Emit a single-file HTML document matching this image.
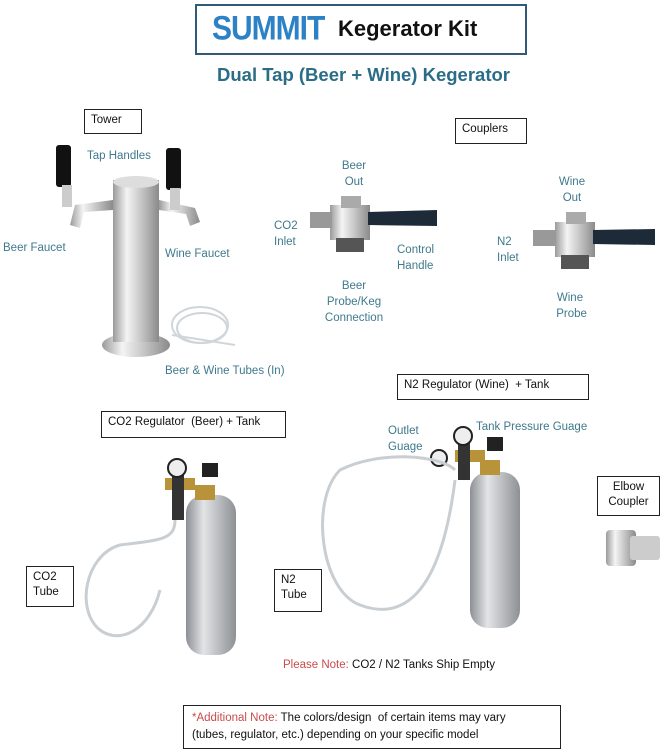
<!DOCTYPE html>
<html><head><meta charset="utf-8"><style>
body{margin:0;width:666px;height:751px;background:#fff;position:relative;overflow:hidden;font-family:"Liberation Sans",sans-serif}
.a{position:absolute}
.t{position:absolute;color:#3e7a8c;font-size:11.5px;line-height:16px;white-space:nowrap}
.c{text-align:center}
.b{position:absolute;border:1.3px solid #222;font-size:11.5px;line-height:15px;color:#111;box-sizing:border-box;padding:3px 6px}
</style></head><body>
<div class="a" style="left:195px;top:4px;width:332px;height:51px;border:2px solid #2f5a78;box-sizing:border-box"></div>
<div class="a" style="left:212px;top:12px;font-size:30px;font-weight:bold;color:#2d82c6;letter-spacing:-1px;transform:scaleY(1.15);font-family:'Liberation Sans Narrow','Liberation Sans',sans-serif">SUMMIT</div>
<div class="a" style="left:338px;top:16px;font-size:22px;font-weight:bold;color:#111">Kegerator Kit</div>
<div class="a" style="left:217px;top:64px;font-size:18.5px;font-weight:bold;color:#2b6d87">Dual Tap (Beer + Wine) Kegerator</div>

<div class="b" style="left:84px;top:109px;width:58px;height:25px">Tower</div>
<div class="b" style="left:455px;top:118px;width:72px;height:26px">Couplers</div>
<div class="b" style="left:101px;top:411px;width:185px;height:27px">CO2 Regulator &nbsp;(Beer) + Tank</div>
<div class="b" style="left:397px;top:374px;width:192px;height:26px">N2 Regulator (Wine) &nbsp;+ Tank</div>
<div class="b" style="left:26px;top:566px;width:48px;height:41px">CO2<br>Tube</div>
<div class="b" style="left:274px;top:569px;width:48px;height:43px">N2<br>Tube</div>
<div class="b" style="left:597px;top:476px;width:63px;height:40px;text-align:center;padding:3px 2px">Elbow<br>Coupler</div>
<div class="b" style="left:183px;top:705px;width:378px;height:44px;font-size:11.5px;padding:4px 8px;line-height:17px"><span style="color:#c94c4c">*Additional Note:</span> The colors/design &nbsp;of certain items may vary<br>(tubes, regulator, etc.) depending on your specific model</div>

<div class="t" style="left:87px;top:148px">Tap Handles</div>
<div class="t" style="left:3px;top:240px">Beer Faucet</div>
<div class="t" style="left:165px;top:246px">Wine Faucet</div>
<div class="t" style="left:165px;top:363px">Beer &amp; Wine Tubes (In)</div>
<div class="t c" style="left:334px;top:158px;width:40px">Beer<br>Out</div>
<div class="t" style="left:274px;top:218px">CO2<br>Inlet</div>
<div class="t" style="left:397px;top:242px">Control<br>Handle</div>
<div class="t c" style="left:312px;top:278px;width:84px">Beer<br>Probe/Keg<br>Connection</div>
<div class="t c" style="left:552px;top:174px;width:40px">Wine<br>Out</div>
<div class="t" style="left:497px;top:234px">N2<br>Inlet</div>
<div class="t c" style="left:545px;top:290px;width:50px">Wine<br>&nbsp;Probe</div>
<div class="t" style="left:388px;top:423px">Outlet<br>Guage</div>
<div class="t" style="left:476px;top:419px">Tank Pressure Guage</div>
<div class="a" style="left:283px;top:659px;font-size:11.5px;color:#111"><span style="color:#c94c4c">Please Note:</span> CO2 / N2 Tanks Ship Empty</div>

<svg class="a" style="left:0;top:0" width="666" height="751">
<defs>
<linearGradient id="s" x1="0" x2="1"><stop offset="0" stop-color="#9a9a9a"/><stop offset=".3" stop-color="#f4f4f4"/><stop offset=".6" stop-color="#c8c8c8"/><stop offset="1" stop-color="#8a8a8a"/></linearGradient>
<linearGradient id="al" x1="0" x2="1"><stop offset="0" stop-color="#8c8f94"/><stop offset=".35" stop-color="#e2e4e6"/><stop offset="1" stop-color="#8d9094"/></linearGradient>
</defs>
<!-- tower -->
<ellipse cx="136" cy="345" rx="34" ry="12" fill="url(#s)"/>
<rect x="113" y="180" width="46" height="162" fill="url(#s)"/>
<ellipse cx="136" cy="182" rx="23" ry="6" fill="#ddd"/>
<path d="M113 200 L75 205 L70 225 L80 228 L84 212 L113 210Z" fill="url(#s)"/>
<path d="M159 200 L195 208 L200 222 L190 226 L186 214 L159 210Z" fill="url(#s)"/>
<rect x="56" y="145" width="15" height="42" rx="3" fill="#111"/>
<rect x="62" y="185" width="10" height="22" fill="#ccc"/>
<rect x="166" y="148" width="15" height="42" rx="3" fill="#111"/>
<rect x="170" y="188" width="10" height="22" fill="#ccc"/>
<g fill="none" stroke="#cfd6da" stroke-width="2"><ellipse cx="200" cy="325" rx="28" ry="18"/><ellipse cx="202" cy="328" rx="25" ry="15"/><path d="M172 335 L235 345"/></g>
<!-- couplers -->
<g><rect x="330" y="205" width="40" height="35" fill="url(#s)"/><rect x="310" y="212" width="22" height="16" fill="#999"/><rect x="336" y="238" width="28" height="14" fill="#555"/><path d="M368 212 L437 210 L437 226 L368 225Z" fill="#1d2a38"/><rect x="341" y="196" width="20" height="12" fill="#aaa"/></g>
<g><rect x="555" y="222" width="40" height="35" fill="url(#s)"/><rect x="533" y="230" width="23" height="16" fill="#999"/><rect x="561" y="255" width="28" height="14" fill="#555"/><path d="M593 230 L655 229 L655 245 L593 244Z" fill="#1d2a38"/><rect x="566" y="212" width="20" height="12" fill="#aaa"/></g>
<!-- CO2 tank -->
<rect x="186" y="495" width="50" height="160" rx="18" fill="url(#al)"/>
<rect x="195" y="485" width="20" height="15" fill="#b8933a"/>
<rect x="165" y="478" width="30" height="12" fill="#b8933a"/>
<rect x="172" y="470" width="12" height="50" fill="#333"/>
<circle cx="177" cy="468" r="9" fill="#eee" stroke="#222" stroke-width="2"/>
<rect x="202" y="463" width="16" height="14" fill="#222"/>
<path d="M175 520 C175 540 160 540 120 545 C85 555 75 610 100 630 C120 645 150 630 160 590" fill="none" stroke="#c9ced2" stroke-width="3"/>
<!-- N2 tank -->
<rect x="470" y="472" width="50" height="156" rx="18" fill="url(#al)"/>
<rect x="480" y="460" width="20" height="15" fill="#b8933a"/>
<rect x="455" y="450" width="30" height="12" fill="#b8933a"/>
<rect x="458" y="440" width="12" height="40" fill="#333"/>
<circle cx="463" cy="436" r="9" fill="#eee" stroke="#222" stroke-width="2"/>
<circle cx="439" cy="458" r="8" fill="#eee" stroke="#222" stroke-width="2"/>
<rect x="487" y="437" width="16" height="14" fill="#222"/>
<path d="M455 470 C440 455 380 450 340 470 C310 500 320 590 360 605 C400 620 440 600 455 480" fill="none" stroke="#c9ced2" stroke-width="3"/>
<!-- elbow -->
<rect x="606" y="530" width="30" height="36" rx="4" fill="url(#s)"/>
<rect x="630" y="536" width="30" height="24" rx="3" fill="#ccc"/>
</svg>
</body></html>
